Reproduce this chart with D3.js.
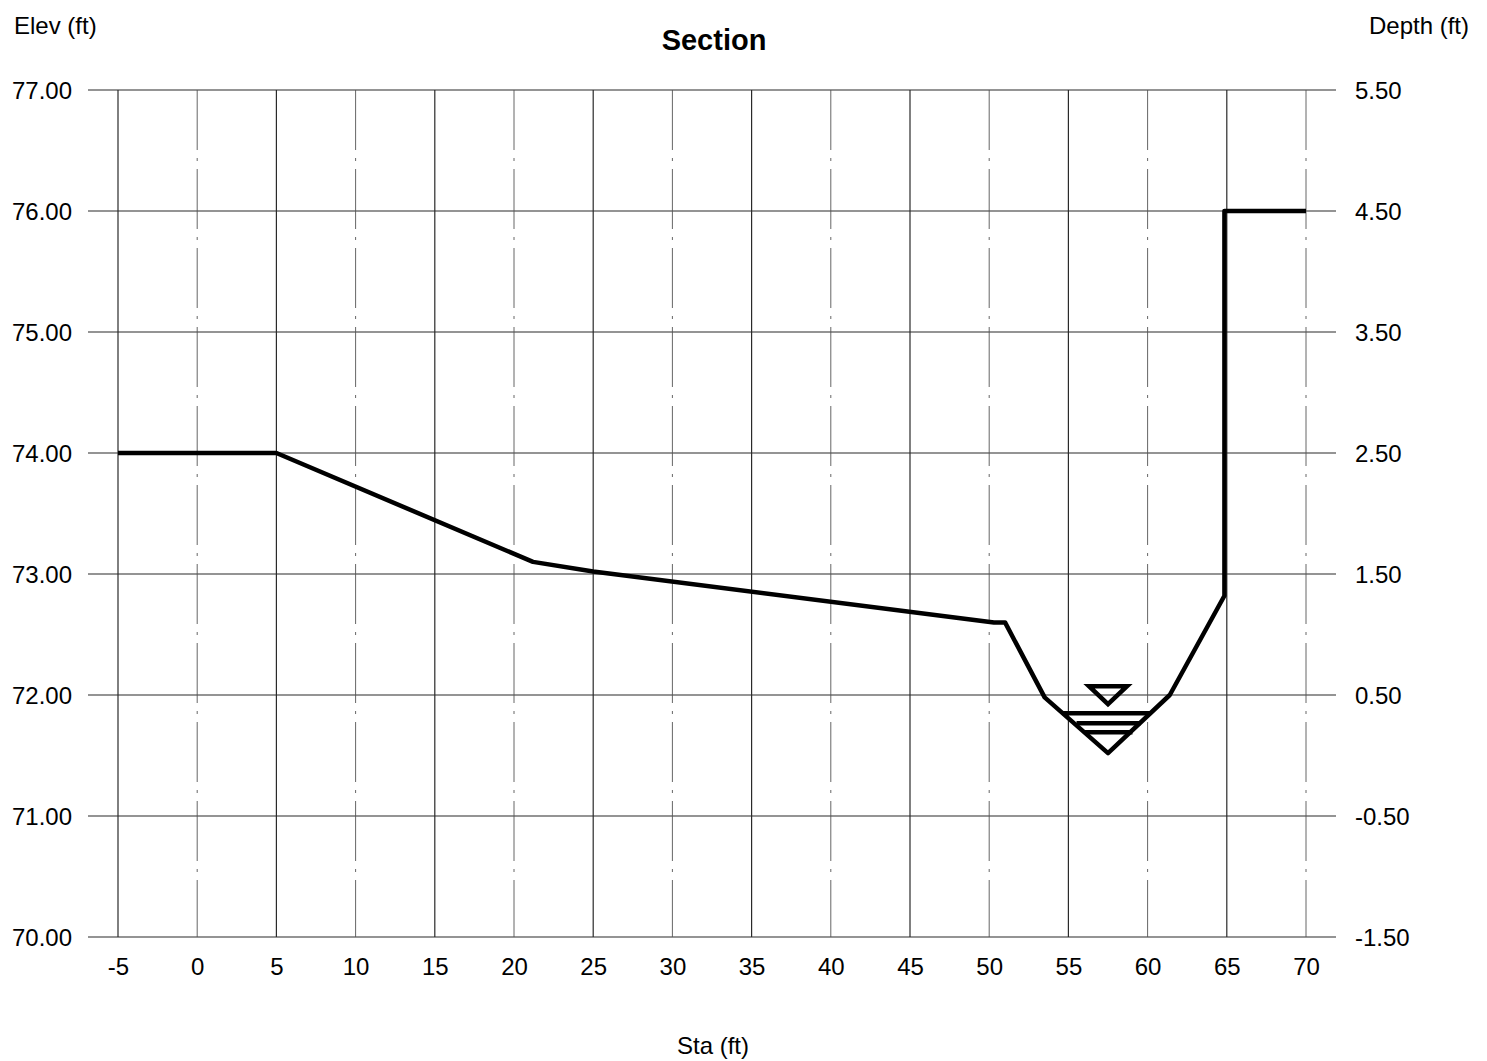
<!DOCTYPE html>
<html>
<head>
<meta charset="utf-8">
<script src="https://cdn.jsdelivr.net/npm/d3@7"></script>
<style>
  html, body { margin: 0; padding: 0; background: #fff; }
  svg { display: block; font-family: "Liberation Sans", Arial, sans-serif; }
</style>
</head>
<body>
<svg id="chart" width="1487" height="1061"></svg>
<script>
// ---- data ----
const stationTicks = [-5, 0, 5, 10, 15, 20, 25, 30, 35, 40, 45, 50, 55, 60, 65, 70];
const elevTicks = [70, 71, 72, 73, 74, 75, 76, 77];
const depthTicks = [-1.5, -0.5, 0.5, 1.5, 2.5, 3.5, 4.5, 5.5];
const profileSta  = [-5, 5, 21.2, 25, 50.3, 51, 53.5, 57.5, 61.4, 64.85, 64.85, 70];
const profileElev = [74, 74, 73.1, 73.02, 72.6, 72.6, 71.98, 71.52, 72.0, 72.82, 76.0, 76.0];
const waterSurfaceElev = 71.85;
const waterMarkerSta = 57.5;
const depthDatum = 71.5; // depth = elev - datum

// ---- layout ----
const svg = d3.select("#chart");
const x = d3.scaleLinear().domain([-5, 70]).range([118, 1306]);
const y = d3.scaleLinear().domain([70, 77]).range([937, 90]);
const yDepth = d3.scaleLinear().domain([70 - depthDatum, 77 - depthDatum]).range([937, 90]);

const hyph = f => (d => f(d).replace("\u2212", "-"));
const fmt2 = hyph(d3.format(".2f"));
const fmt0 = hyph(d3.format("d"));
const gridColor = "#2a2a2a";

// horizontal grid lines (span beyond plot as ticks)
svg.append("g").selectAll("line").data(elevTicks).join("line")
  .attr("x1", 88).attr("x2", 1336)
  .attr("y1", d => y(d)).attr("y2", d => y(d))
  .attr("stroke", gridColor).attr("stroke-width", 1.2);

// vertical grid lines
svg.append("g").selectAll("line").data(stationTicks).join("line")
  .attr("x1", d => x(d)).attr("x2", d => x(d))
  .attr("y1", y(77)).attr("y2", y(70))
  .attr("stroke", d => (d % 10 === 0 ? "#555" : gridColor))
  .attr("stroke-width", d => (d % 10 === 0 ? 0.9 : 1.2))
  .attr("stroke-dasharray", d => (d % 10 === 0 ? "60 8 3 8" : null));

// left axis labels
const leftAxis = d3.axisLeft(y).tickValues(elevTicks).tickFormat(fmt2).tickSize(0).tickPadding(0);
const gl = svg.append("g").attr("transform", "translate(72,0)").call(leftAxis);
gl.select(".domain").remove();
gl.selectAll("text").attr("font-size", 24).attr("fill", "#000")
  .attr("font-family", "Liberation Sans, Arial, sans-serif").attr("dy", "0.35em");

// right axis labels
const rightAxis = d3.axisRight(yDepth).tickValues(depthTicks).tickFormat(fmt2).tickSize(0).tickPadding(0);
const gr = svg.append("g").attr("transform", "translate(1355,0)").call(rightAxis);
gr.select(".domain").remove();
gr.selectAll("text").attr("font-size", 24).attr("fill", "#000")
  .attr("font-family", "Liberation Sans, Arial, sans-serif").attr("dy", "0.35em");

// bottom axis labels
const bottomAxis = d3.axisBottom(x).tickValues(stationTicks).tickFormat(fmt0).tickSize(0).tickPadding(0);
const gb = svg.append("g").attr("transform", "translate(0,958)").call(bottomAxis);
gb.select(".domain").remove();
gb.selectAll("text").attr("font-size", 24).attr("fill", "#000")
  .attr("font-family", "Liberation Sans, Arial, sans-serif").attr("dy", "0.71em");

// ground profile
const profile = profileSta.map((s, i) => [s, profileElev[i]]);
svg.append("path").datum(profile)
  .attr("d", d3.line().x(d => x(d[0])).y(d => y(d[1])))
  .attr("fill", "none").attr("stroke", "#000").attr("stroke-width", 4.5)
  .attr("stroke-linejoin", "round");

// water surface symbol: channel width at water surface from profile intersection
function crossings(elev) {
  const xs = [];
  for (let i = 0; i < profile.length - 1; i++) {
    const [s0, e0] = profile[i], [s1, e1] = profile[i + 1];
    if ((e0 - elev) * (e1 - elev) < 0) {
      xs.push(s0 + (elev - e0) / (e1 - e0) * (s1 - s0));
    }
  }
  return xs;
}
const wsX = crossings(waterSurfaceElev);
const wsL = x(wsX[0]), wsR = x(wsX[1]);
const wsY = y(waterSurfaceElev);
const cx = x(waterMarkerSta);
const wg = svg.append("g").attr("stroke", "#000").attr("fill", "none");
wg.append("line").attr("x1", wsL).attr("x2", wsR).attr("y1", wsY).attr("y2", wsY).attr("stroke-width", 4.5);
wg.append("line").attr("x1", wsL + 14).attr("x2", wsR - 10).attr("y1", wsY + 10).attr("y2", wsY + 10).attr("stroke-width", 4.5);
wg.append("line").attr("x1", wsL + 22).attr("x2", wsR - 18).attr("y1", wsY + 19).attr("y2", wsY + 19).attr("stroke-width", 4.5);
// inverted triangle above
wg.append("path")
  .attr("d", `M${cx - 19},${wsY - 27} L${cx + 19},${wsY - 27} L${cx},${wsY - 9} Z`)
  .attr("stroke-width", 4.5).attr("stroke-linejoin", "miter");

// titles
svg.append("text").attr("x", 714).attr("y", 50).attr("text-anchor", "middle")
  .attr("font-size", 29).attr("font-weight", "bold").text("Section");
svg.append("text").attr("x", 14).attr("y", 34).attr("font-size", 24).text("Elev (ft)");
svg.append("text").attr("x", 1469).attr("y", 34).attr("text-anchor", "end").attr("font-size", 24).text("Depth (ft)");
svg.append("text").attr("x", 713).attr("y", 1054).attr("text-anchor", "middle").attr("font-size", 24).text("Sta (ft)");
</script>
</body>
</html>
